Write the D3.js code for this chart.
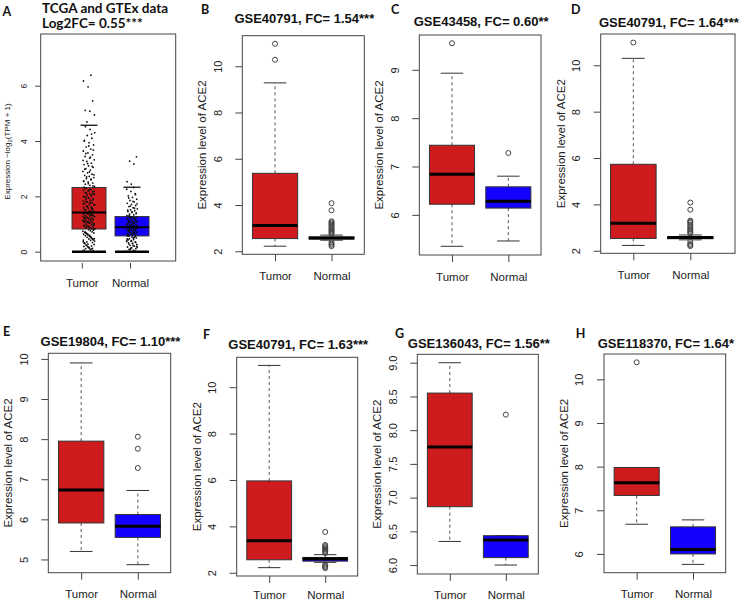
<!DOCTYPE html>
<html><head><meta charset="utf-8">
<script src="https://cdn.jsdelivr.net/npm/d3@7"></script>
<style>body{margin:0;background:#fff} svg{display:block}</style>
</head><body><svg id="c" width="740" height="602"></svg>
<script>
// ---------------- DATA ----------------
const groups = ["Tumor", "Normal"];
const panelLetters = ["A", "B", "C", "D", "E", "F", "G", "H"];
const titleA = ["TCGA and GTEx data", "Log2FC= 0.55***"];
const panelTitles = ["GSE40791, FC= 1.54***", "GSE43458, FC= 0.60**", "GSE40791, FC= 1.64***",
  "GSE19804, FC= 1.10***", "GSE40791, FC= 1.63***", "GSE136043, FC= 1.56**", "GSE118370, FC= 1.64*"];

// box stats: [lower whisker, Q1, median, Q3, upper whisker]
const statsA_tumor = [0, 0.82, 1.42, 2.32, 4.57];
const statsA_normal = [0, 0.57, 0.88, 1.27, 2.33];
const statsB_tumor = [2.22, 2.55, 3.11, 5.37, 9.28];
const statsB_normal = [2.48, 2.53, 2.58, 2.62, 2.70];
const statsC_tumor = [5.35, 6.22, 6.84, 7.44, 8.93];
const statsC_normal = [5.46, 6.14, 6.28, 6.58, 6.80];
const statsD_tumor = [2.23, 2.53, 3.19, 5.73, 10.30];
const statsD_normal = [2.47, 2.52, 2.57, 2.61, 2.68];
const statsE_tumor = [5.20, 5.91, 6.73, 7.95, 9.90];
const statsE_normal = [4.87, 5.55, 5.83, 6.12, 6.72];
const statsF_tumor = [2.22, 2.56, 3.38, 5.96, 10.94];
const statsF_normal = [2.45, 2.50, 2.60, 2.66, 2.78];
const statsG_tumor = [6.35, 6.865, 7.75, 8.55, 9.00];
const statsG_normal = [6.00, 6.11, 6.37, 6.435, 6.435];
const statsH_tumor = [6.68, 7.34, 7.63, 7.98, 7.98];
const statsH_normal = [5.76, 6.00, 6.10, 6.62, 6.78];

// outliers
const outB_tumor = [10.97, 10.28];
const outB_normal = [4.08, 3.77, 3.30, 3.25, 3.20, 3.15, 3.10, 3.05, 3.00, 2.95, 2.90, 2.85, 2.80, 2.75, 2.40, 2.33, 2.28, 2.22];
const outC_tumor = [9.55];
const outC_normal = [7.28];
const outD_tumor = [10.98];
const outD_normal = [4.08, 3.77, 3.30, 3.25, 3.20, 3.12, 3.05, 2.98, 2.92, 2.86, 2.80, 2.75, 2.40, 2.30, 2.25, 2.20];
const outE_tumor = [];
const outE_normal = [8.06, 7.76, 7.28];
const outF_tumor = [];
const outF_normal = [3.76, 3.20, 3.15, 3.10, 3.05, 3.00, 2.95, 2.90, 2.85, 2.35, 2.30, 2.25, 2.20];
const outG_tumor = [];
const outG_normal = [8.23];
const outH_tumor = [10.39];
const outH_normal = [];

// individual samples shown as jittered dots in panel A
const pointsA_tumor = [
  0.03,0.07,0.11,0.04,0.15,0.19,0.09,0.22,0.26,0.13,0.29,0.33,0.18,0.36,0.41,0.24,0.43,0.46,0.31,0.49,
  0.52,0.38,0.55,0.58,0.45,0.61,0.63,0.51,0.66,0.68,0.57,0.70,0.72,0.64,0.74,0.76,0.69,0.78,0.80,0.06,
  0.21,0.35,0.47,0.59,0.71,0.12,0.27,0.42,0.54,0.67,0.79,0.16,0.32,0.48,0.62,
  0.82,0.85,0.87,0.90,0.92,0.94,0.97,0.99,1.01,1.03,1.05,1.07,1.09,1.11,1.13,1.15,1.17,1.19,1.21,1.23,
  1.25,1.27,1.29,1.31,1.33,1.35,1.37,1.39,1.41,0.84,0.89,0.95,1.00,1.06,1.12,1.18,1.24,1.30,1.36,1.40,
  0.83,0.91,0.98,1.04,1.10,1.16,1.22,1.28,1.34,0.88,0.96,1.08,1.20,1.32,1.38,
  1.44,1.47,1.50,1.53,1.56,1.59,1.62,1.65,1.68,1.71,1.74,1.77,1.80,1.83,1.86,1.89,1.92,1.95,1.98,2.01,
  2.04,2.07,2.10,2.13,2.16,2.19,2.22,2.25,2.28,2.31,1.46,1.52,1.58,1.64,1.70,1.76,1.82,1.88,1.94,2.00,
  2.06,2.12,2.18,2.24,2.30,1.49,1.61,1.73,1.85,1.97,2.09,2.21,2.33,1.55,1.79,
  2.36,2.40,2.44,2.48,2.52,2.56,2.60,2.64,2.68,2.72,2.76,2.80,2.85,2.90,2.95,3.00,3.05,3.10,3.15,3.20,
  3.26,3.32,3.38,3.44,3.50,3.57,3.64,3.71,3.78,3.86,3.94,4.02,4.10,4.20,4.30,4.42,4.52,2.38,2.46,2.54,
  2.62,2.70,2.78,2.88,2.98,3.08,3.18,3.30,3.42,3.55,3.68,3.82,4.00,4.25,
  4.69,4.94,5.08,5.11,5.45,5.96,6.17,6.38];
const pointsA_normal = [
  0.02,0.05,0.08,0.11,0.14,0.17,0.20,0.23,0.26,0.29,0.32,0.35,0.38,0.41,0.44,0.47,0.50,0.53,0.56,0.04,
  0.10,0.16,0.22,0.28,0.34,0.40,0.46,0.52,0.07,0.19,0.31,0.43,0.55,0.13,0.37,0.49,
  0.58,0.60,0.62,0.64,0.66,0.68,0.70,0.72,0.74,0.76,0.78,0.80,0.82,0.84,0.86,0.88,0.59,0.63,0.67,0.71,
  0.75,0.79,0.83,0.87,0.61,0.69,0.77,0.85,0.65,0.73,0.81,
  0.90,0.92,0.94,0.96,0.98,1.00,1.02,1.04,1.06,1.08,1.10,1.12,1.14,1.16,1.18,1.20,1.22,1.24,1.26,1.28,
  0.91,0.95,0.99,1.03,1.07,1.11,1.15,1.19,1.23,1.27,0.93,1.01,1.09,1.17,1.25,
  1.30,1.33,1.36,1.39,1.42,1.45,1.48,1.51,1.55,1.59,1.63,1.67,1.71,1.75,1.80,1.85,1.90,1.96,2.02,2.10,
  2.18,2.26,2.32,1.32,1.38,1.44,1.50,1.57,1.65,1.73,1.82,1.94,2.06,
  2.44,2.53,3.17,3.27,3.43];

// y tick labels
const yTicksA = [0, 2, 4, 6];
const yTicksB = [2, 4, 6, 8, 10];
const yTicksC = [6, 7, 8, 9];
const yTicksD = [2, 4, 6, 8, 10];
const yTicksE = [5, 6, 7, 8, 9, 10];
const yTicksF = [2, 4, 6, 8, 10];
const yTicksG = [6.0, 6.5, 7.0, 7.5, 8.0, 8.5, 9.0];
const yTicksH = [6, 7, 8, 9, 10];

// ---------------- LAYOUT / STYLE ----------------
const RED = "#CD1B1E", BLUE = "#1400FF";
const FONT = "'Liberation Sans', Arial, Helvetica, sans-serif";
const CAL = "Lato, 'Open Sans', sans-serif";
const svg = d3.select("#c");
svg.append("rect").attr("width", 740).attr("height", 602).attr("fill", "#fff");

const rPanels = [
  {letter: "B", lx: 201, ly: 14, title: panelTitles[0], ty: 22.5, L: 242.3, R: 364.3, T: 35.7, B: 254.3, yd: [1.87, 11.32], xd: [0.42, 2.58], xl: 25.7,
   stats: [statsB_tumor, statsB_normal], outs: [outB_tumor, outB_normal], ticks: yTicksB, fmt: d3.format("d")},
  {letter: "C", lx: 391, ly: 14, title: panelTitles[1], ty: 26, L: 419.3, R: 541, T: 35, B: 255, yd: [5.17, 9.72], xd: [0.42, 2.58], xl: 25.7,
   stats: [statsC_tumor, statsC_normal], outs: [outC_tumor, outC_normal], ticks: yTicksC, fmt: d3.format("d")},
  {letter: "D", lx: 571, ly: 14, title: panelTitles[2], ty: 26.5, L: 600.7, R: 735, T: 34, B: 253.3, yd: [1.89, 11.35], xd: [0.428, 2.784], xl: 25.7,
   stats: [statsD_tumor, statsD_normal], outs: [outD_tumor, outD_normal], ticks: yTicksD, fmt: d3.format("d")},
  {letter: "E", lx: 3, ly: 336, title: panelTitles[3], ty: 345.5, L: 48.3, R: 170.7, T: 353.3, B: 572.7, yd: [4.67, 10.14], xd: [0.42, 2.58], xl: 25.7,
   stats: [statsE_tumor, statsE_normal], outs: [outE_tumor, outE_normal], ticks: yTicksE, fmt: d3.format("d")},
  {letter: "F", lx: 203, ly: 339, title: panelTitles[4], ty: 349, L: 236.7, R: 357.7, T: 357.3, B: 576, yd: [1.86, 11.29], xd: [0.42, 2.58], xl: 23.3,
   stats: [statsF_tumor, statsF_normal], outs: [outF_tumor, outF_normal], ticks: yTicksF, fmt: d3.format("d")},
  {letter: "G", lx: 395, ly: 337.7, title: panelTitles[5], ty: 347.7, L: 417.3, R: 538.3, T: 354.3, B: 574, yd: [5.867, 9.125], xd: [0.42, 2.58], xl: 25,
   stats: [statsG_tumor, statsG_normal], outs: [outG_tumor, outG_normal], ticks: yTicksG, fmt: d3.format(".1f")},
  {letter: "H", lx: 575.7, ly: 337.7, title: panelTitles[6], ty: 347.7, L: 604, R: 725.7, T: 354, B: 572.7, yd: [5.57, 10.58], xd: [0.42, 2.58], xl: 25.7,
   stats: [statsH_tumor, statsH_normal], outs: [outH_tumor, outH_normal], ticks: yTicksH, fmt: d3.format("d")}
];

function rPanel(p) {
  const g = svg.append("g");
  const x = d3.scaleLinear().domain(p.xd).range([p.L, p.R]);
  const y = d3.scaleLinear().domain(p.yd).range([p.B, p.T]);
  const hw = x(1.4) - x(1); // half box width (boxwex 0.8)
  const fills = [RED, BLUE];
  p.stats.forEach((s, i) => {
    const cx = x(i + 1);
    const [lo, q1, med, q3, hi] = s;
    g.append("line").attr("x1", cx).attr("x2", cx).attr("y1", y(q3)).attr("y2", y(hi))
      .attr("stroke", "#555").attr("stroke-width", 1).attr("stroke-dasharray", "3,3");
    g.append("line").attr("x1", cx).attr("x2", cx).attr("y1", y(q1)).attr("y2", y(lo))
      .attr("stroke", "#555").attr("stroke-width", 1).attr("stroke-dasharray", "3,3");
    [lo, hi].forEach(v => g.append("line").attr("x1", cx - hw / 2).attr("x2", cx + hw / 2)
      .attr("y1", y(v)).attr("y2", y(v)).attr("stroke", "#333").attr("stroke-width", 1));
    g.append("rect").attr("x", cx - hw).attr("width", 2 * hw).attr("y", y(q3)).attr("height", Math.max(0.5, y(q1) - y(q3)))
      .attr("fill", fills[i]).attr("stroke", "#333").attr("stroke-width", 1);
    g.append("line").attr("x1", cx - hw).attr("x2", cx + hw).attr("y1", y(med)).attr("y2", y(med))
      .attr("stroke", "#000").attr("stroke-width", 3);
    g.selectAll(null).data(p.outs[i]).enter().append("circle")
      .attr("cx", cx).attr("cy", d => y(d)).attr("r", 2.5)
      .attr("fill", "none").attr("stroke", "#444").attr("stroke-width", 1);
  });
  g.append("rect").attr("x", p.L).attr("y", p.T).attr("width", p.R - p.L).attr("height", p.B - p.T)
    .attr("fill", "none").attr("stroke", "#444").attr("stroke-width", 1);
  // y axis
  const ya = g.append("g").attr("transform", `translate(${p.L},0)`)
    .call(d3.axisLeft(y).tickValues(p.ticks).tickSize(7).tickFormat(p.fmt));
  ya.select(".domain").remove();
  ya.selectAll(".tick line").attr("stroke", "#444");
  ya.selectAll(".tick text").attr("transform", "rotate(-90)").attr("x", 0).attr("y", -20.8).attr("dy", 0)
    .attr("text-anchor", "middle").attr("font-family", FONT).attr("font-size", 11).attr("fill", "#222");
  // x axis
  const xa = g.append("g").attr("transform", `translate(0,${p.B})`)
    .call(d3.axisBottom(x).tickValues([1, 2]).tickSize(7).tickFormat((d, i) => groups[i]));
  xa.select(".domain").remove();
  xa.selectAll(".tick line").attr("stroke", "#444");
  xa.selectAll(".tick text").attr("y", p.xl).attr("dy", 0).attr("font-family", FONT).attr("font-size", 11.5).attr("fill", "#222");
  // axis title
  g.append("text").attr("transform", `translate(${p.L - 36},${(p.T + p.B) / 2}) rotate(-90)`)
    .attr("text-anchor", "middle").attr("font-family", FONT).attr("font-size", 11.5).attr("fill", "#222")
    .text("Expression level of ACE2");
  // title
  g.append("text").attr("x", (p.L + p.R) / 2 + 1).attr("y", p.ty).attr("text-anchor", "middle")
    .attr("font-family", FONT).attr("font-weight", "bold").attr("font-size", 13).attr("fill", "#111").text(p.title);
  g.append("text").attr("x", p.lx).attr("y", p.ly).attr("font-family", CAL).attr("font-weight", "bold")
    .attr("font-size", 12.5).attr("fill", "#111").text(p.letter);
}
rPanels.forEach(rPanel);

// ---------------- Panel A (GEPIA style) ----------------
(function () {
  const L = 40.7, R = 175.7, T = 34, B = 261;
  const g = svg.append("g");
  const x = d3.scaleLinear().domain([-0.123, 3.016]).range([L, R]);
  const y = d3.scaleLinear().domain([-0.336, 7.868]).range([B, T]);
  const hw = x(1.395) - x(1);
  const stats = [statsA_tumor, statsA_normal];
  const pts = [pointsA_tumor, pointsA_normal];
  const fills = [RED, BLUE];
  const jit = [{c: -0.2, w: 6}, {c: 0, w: 5.5}];
  const tickShift = [-6.7, -1.5];
  stats.forEach((s, i) => {
    const cx = x(i + 1);
    const [lo, q1, med, q3, hi] = s;
    g.append("rect").attr("x", cx - hw).attr("width", 2 * hw).attr("y", y(q3)).attr("height", y(q1) - y(q3))
      .attr("fill", fills[i]).attr("stroke", "#333").attr("stroke-width", 1);
    g.append("line").attr("x1", cx - hw / 2).attr("x2", cx + hw / 2).attr("y1", y(hi)).attr("y2", y(hi))
      .attr("stroke", "#111").attr("stroke-width", 1.3);
    g.append("line").attr("x1", cx - hw).attr("x2", cx + hw).attr("y1", y(lo)).attr("y2", y(lo))
      .attr("stroke", "#000").attr("stroke-width", 2.6);
    g.selectAll(null).data(pts[i]).enter().append("circle")
      .attr("cx", (d, k) => cx + jit[i].c + ((k * 0.6180339887) % 1 - 0.5) * 2 * jit[i].w)
      .attr("cy", d => y(d)).attr("r", 0.9).attr("fill", "#111");
    g.append("line").attr("x1", cx - hw).attr("x2", cx + hw).attr("y1", y(med)).attr("y2", y(med))
      .attr("stroke", "#000").attr("stroke-width", 2);
  });
  g.append("rect").attr("x", L).attr("y", T).attr("width", R - L).attr("height", B - T)
    .attr("fill", "none").attr("stroke", "#444").attr("stroke-width", 1);
  const ya = g.append("g").attr("transform", `translate(${L},0)`)
    .call(d3.axisLeft(y).tickValues(yTicksA).tickSize(5.5).tickFormat(d3.format("d")));
  ya.select(".domain").remove();
  ya.selectAll(".tick line").attr("stroke", "#444");
  ya.selectAll(".tick text").attr("transform", "rotate(-90)").attr("x", 0).attr("y", -14).attr("dy", 0)
    .attr("text-anchor", "middle").attr("font-family", FONT).attr("font-size", 8.5).attr("fill", "#222");
  groups.forEach((gname, i) => {
    const tx = x(i + 1) + tickShift[i];
    g.append("line").attr("x1", tx).attr("x2", tx).attr("y1", B + 2).attr("y2", B + 7.5).attr("stroke", "#444");
    g.append("text").attr("x", tx).attr("y", B + 26.3).attr("text-anchor", "middle")
      .attr("font-family", FONT).attr("font-size", 11.5).attr("fill", "#222").text(gname);
  });
  const at = g.append("text").attr("transform", `translate(${L - 31},${(T + B) / 2 + 4}) rotate(-90)`)
    .attr("text-anchor", "middle").attr("font-family", FONT).attr("font-size", 8).attr("fill", "#222");
  at.append("tspan").text("Expression \u2212log");
  at.append("tspan").attr("font-size", 6).attr("dy", 2).text("2");
  at.append("tspan").attr("dy", -2).text("(TPM + 1)");
  g.append("text").attr("x", 42).attr("y", 12.5).attr("font-family", CAL).attr("font-weight", "bold")
    .attr("font-size", 13.5).attr("fill", "#111").text(titleA[0]);
  g.append("text").attr("x", 42).attr("y", 28).attr("font-family", CAL).attr("font-weight", "bold")
    .attr("font-size", 13.5).attr("fill", "#111").text(titleA[1]);
  g.append("text").attr("x", 2.5).attr("y", 16).attr("font-family", CAL).attr("font-weight", "bold")
    .attr("font-size", 12.5).attr("fill", "#111").text(panelLetters[0]);
})();
</script></body></html>
